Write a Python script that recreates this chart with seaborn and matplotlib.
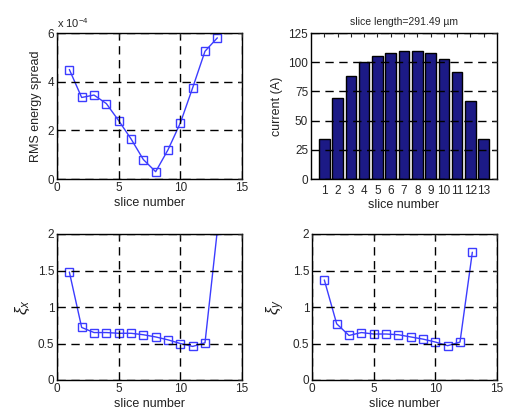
import matplotlib
matplotlib.use('Agg')
import matplotlib.pyplot as plt
from matplotlib.ticker import FuncFormatter
import seaborn as sns

slices = [1, 2, 3, 4, 5, 6, 7, 8, 9, 10, 11, 12, 13]
# RMS energy spread, in units of 1e-4
energy_spread = [4.5, 3.35, 3.45, 3.1, 2.4, 1.65, 0.8, 0.3, 1.2, 2.3, 3.75, 5.25, 5.8]
current = [34, 69, 88, 100, 105, 108, 110, 110, 108, 103, 92, 67, 34]
xi_x = [1.48, 0.72, 0.65, 0.65, 0.64, 0.64, 0.62, 0.59, 0.55, 0.50, 0.46, 0.51, 2.05]
xi_y = [1.37, 0.77, 0.61, 0.65, 0.63, 0.63, 0.62, 0.59, 0.56, 0.52, 0.47, 0.52, 1.75]

line_color = '#3c3cff'
bar_color = '#1c1a86'
TICK_FS = 8.5
LABEL_FS = 9

sns.set_style('white')
plt.rcParams['font.family'] = ['Liberation Sans', 'DejaVu Sans']
plt.rcParams['mathtext.fontset'] = 'custom'
plt.rcParams['mathtext.rm'] = 'Liberation Sans'
plt.rcParams['mathtext.it'] = 'Liberation Sans:italic'

fig = plt.figure(figsize=(5.05, 4.13), dpi=100)
W, H = 505, 413


def add_axes(l, t, r, b):
    return fig.add_axes([l / W, 1 - b / H, (r - l) / W, (b - t) / H])


def style(ax):
    ax.grid(True, color='black', linestyle='--', linewidth=1.0, dashes=(6, 4))
    ax.set_axisbelow(False)
    ax.tick_params(direction='in', top=True, right=True, length=3,
                   labelsize=TICK_FS, width=0.8, pad=2)
    for s in ax.spines.values():
        s.set_linewidth(1.0)
        s.set_color('black')
    ax.set_xlabel('slice number', fontsize=LABEL_FS, labelpad=2, color='#222222')
    ax.yaxis.set_major_formatter(FuncFormatter(lambda v, p: '%g' % v))


def line_panel(ax, y, ylim, yticks, ylabel, label_fs=LABEL_FS):
    sns.lineplot(x=slices, y=y, ax=ax, color=line_color, marker='s',
                 markersize=6, markerfacecolor='none',
                 markeredgecolor=line_color, markeredgewidth=1.0,
                 linewidth=1.0)
    ax.set_xlim(0, 15)
    ax.set_xticks([0, 5, 10, 15])
    ax.set_ylim(*ylim)
    ax.set_yticks(yticks)
    ax.set_ylabel(ylabel, fontsize=label_fs, labelpad=4, color='#222222')
    style(ax)


ax1 = add_axes(57, 33, 242, 179)
line_panel(ax1, energy_spread, (0, 6), [0, 2, 4, 6], 'RMS energy spread')
ax1.text(0.0, 1.02, r'x 10$^{-4}$', transform=ax1.transAxes, fontsize=8,
         ha='left', va='bottom')

ax2 = add_axes(311, 33, 497, 179)
sns.barplot(x=slices, y=current, ax=ax2, native_scale=True, color=bar_color,
            saturation=1, width=0.8, edgecolor='black', linewidth=1.0)
ax2.set_xlim(0, 14)
ax2.set_ylim(0, 125)
ax2.set_yticks([0, 25, 50, 75, 100, 125])
ax2.set_ylabel('current (A)', fontsize=LABEL_FS, labelpad=4, color='#222222')
style(ax2)
ax2.set_xticks(slices)
ax2.set_xticklabels([str(s) for s in slices])
ax2.xaxis.grid(False)
ax2.tick_params(axis='x', labelsize=TICK_FS, pad=4)
ax2.set_title('slice length=291.49 µm', fontsize=7.5, pad=6)

ax3 = add_axes(57, 234, 242, 380)
line_panel(ax3, xi_x, (0, 2), [0, 0.5, 1, 1.5, 2], r'$\xi_x$', label_fs=12)

ax4 = add_axes(312, 234, 497, 380)
line_panel(ax4, xi_y, (0, 2), [0, 0.5, 1, 1.5, 2], r'$\xi_y$', label_fs=12)

fig.savefig('out.png', dpi=100)
